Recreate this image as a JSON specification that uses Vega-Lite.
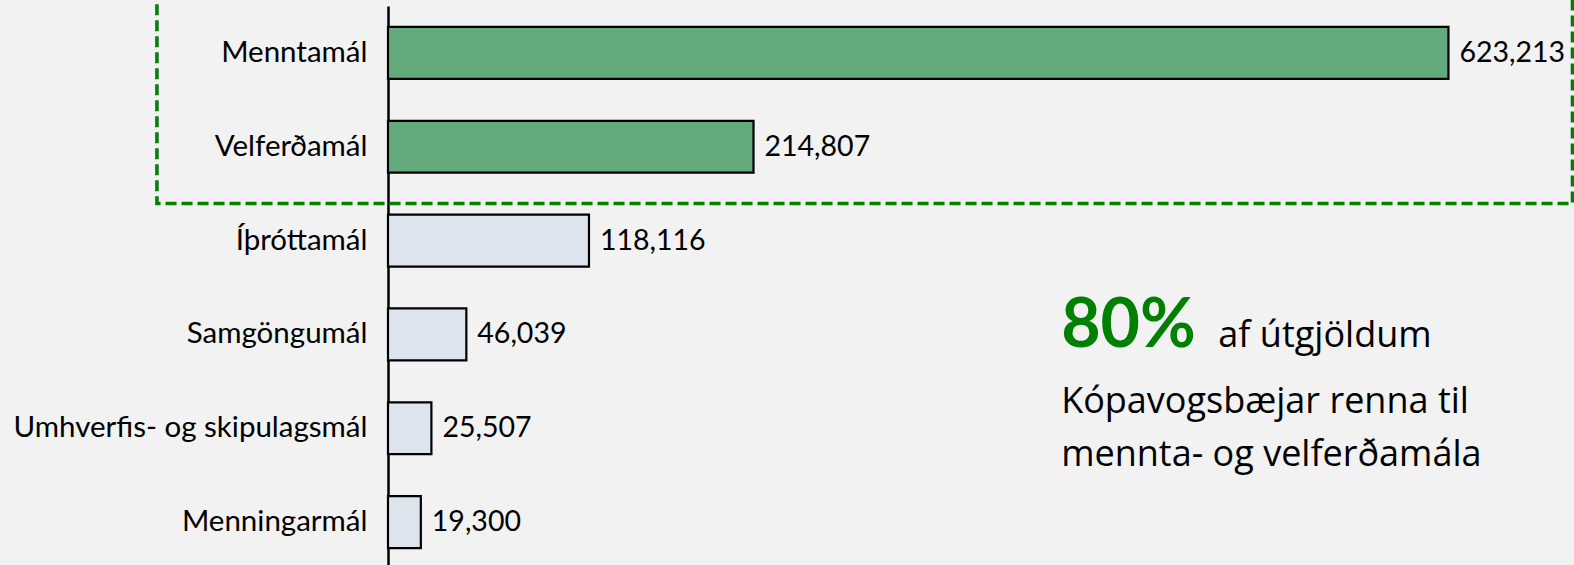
{
  "$schema": "https://vega.github.io/schema/vega-lite/v6.json",
  "width": 1186,
  "height": 563,
  "autosize": {"type": "none"},
  "padding": {"left": 388, "top": 6, "right": 0, "bottom": 0},
  "background": "#f2f2f2",
  "config": {
    "view": {"stroke": null},
    "font": "Lato",
    "text": {"font": "Lato", "fontWeight": "normal"}
  },
  "data": {
    "values": [
      {"category": "Menntamál", "value": 623213, "group": "focus"},
      {"category": "Velferðamál", "value": 214807, "group": "focus"},
      {"category": "Íþróttamál", "value": 118116, "group": "other"},
      {"category": "Samgöngumál", "value": 46039, "group": "other"},
      {"category": "Umhverfis- og skipulagsmál", "value": 25507, "group": "other"},
      {"category": "Menningarmál", "value": 19300, "group": "other"}
    ]
  },
  "resolve": {"scale": {"y": "independent"}, "axis": {"y": "independent"}},
  "layer": [
    {
      "layer": [
        {
          "mark": {"type": "bar", "stroke": "#000000", "strokeWidth": 2.2},
          "encoding": {
            "y": {
              "field": "category", "type": "nominal", "sort": null, "title": null,
              "scale": {"paddingInner": 0.447, "paddingOuter": 0.2235},
              "axis": {
                "domainColor": "#000000", "domainWidth": 2.5, "ticks": false,
                "labelFontSize": 29.5, "labelColor": "#000000", "labelPadding": 21,
                "labelFont": "Lato", "labelFontWeight": "normal", "labelLimit": 500
              }
            },
            "x": {
              "field": "value", "type": "quantitative",
              "scale": {"domain": [0, 697000], "nice": false},
              "axis": null
            },
            "fill": {
              "field": "group", "type": "nominal",
              "scale": {"domain": ["focus", "other"], "range": ["#63ab7d", "#dde4ee"]},
              "legend": null
            }
          }
        },
        {
          "mark": {"type": "text", "align": "left", "baseline": "middle", "dx": 11, "fontSize": 28.5, "fontWeight": "normal", "color": "#000000", "font": "Lato"},
          "encoding": {
            "y": {"field": "category", "type": "nominal", "sort": null},
            "x": {"field": "value", "type": "quantitative"},
            "text": {"field": "value", "type": "quantitative", "format": ","}
          }
        }
      ]
    },
    {
      "data": {"values": [{"note": "annotation"}]},
      "layer": [
        {
          "mark": {"type": "rect", "fill": null, "stroke": "#008000", "strokeWidth": 3.5, "strokeDash": [11, 5]},
          "encoding": {
            "x": {"datum": -135800},
            "x2": {"datum": 696100},
            "y": {"datum": -0.5, "type": "quantitative", "scale": {"domain": [0, 6], "reverse": true, "nice": false}, "axis": null},
            "y2": {"datum": 2.106}
          }
        },
        {
          "mark": {"type": "text", "text": "80%", "align": "left", "baseline": "alphabetic", "fontSize": 68, "fontWeight": "bold", "color": "#008000", "font": "Lato"},
          "encoding": {
            "x": {"datum": 395600},
            "y": {"datum": 3.634, "type": "quantitative"}
          }
        },
        {
          "mark": {"type": "text", "text": "af útgjöldum", "align": "left", "baseline": "alphabetic", "fontSize": 36, "fontWeight": "normal", "color": "#000000", "font": "Open Sans"},
          "encoding": {
            "x": {"datum": 488000},
            "y": {"datum": 3.634, "type": "quantitative"}
          }
        },
        {
          "mark": {"type": "text", "text": "Kópavogsbæjar renna til", "align": "left", "baseline": "alphabetic", "fontSize": 36, "fontWeight": "normal", "color": "#000000", "font": "Open Sans"},
          "encoding": {
            "x": {"datum": 395600},
            "y": {"datum": 4.338, "type": "quantitative"}
          }
        },
        {
          "mark": {"type": "text", "text": "mennta- og velferðamála", "align": "left", "baseline": "alphabetic", "fontSize": 36, "fontWeight": "normal", "color": "#000000", "font": "Open Sans"},
          "encoding": {
            "x": {"datum": 395600},
            "y": {"datum": 4.902, "type": "quantitative"}
          }
        }
      ]
    }
  ]
}
